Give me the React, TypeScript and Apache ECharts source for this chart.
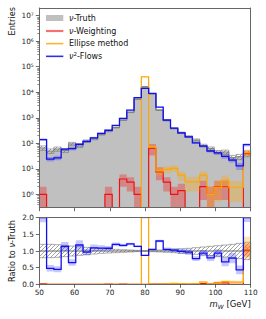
import React, { useEffect, useRef } from "react";
import * as echarts from "echarts";

// ---------- binning ----------
const X_MIN = 50;
const X_MAX = 110;
const N_BINS = 29;
const binEdges: number[] = Array.from({ length: N_BINS + 1 }, (_, i) => X_MIN + (i * (X_MAX - X_MIN)) / N_BINS);

// ---------- data ----------
const truthCounts = [66, 50, 60, 52, 95, 78, 122, 150, 225, 300, 417, 816, 1650, 5400, 16300, 8670, 2000, 780, 380, 258, 184, 135, 82, 63, 45, 46, 28, 30, 40];
const truthRelErr = [0.2, 0.2, 0.19, 0.17, 0.15, 0.13, 0.11, 0.09, 0.07, 0.06, 0.05, 0.04, 0.03, 0.02, 0.01, 0.02, 0.03, 0.04, 0.05, 0.07, 0.08, 0.1, 0.12, 0.14, 0.16, 0.18, 0.2, 0.23, 0.26];

const weightingCounts = [1, 0, 0, 0, 0, 0, 0, 0, 0, 1, 0, 4, 3, 1, 0, 63, 7.6, 3, 1, 1.4, 0, 0, 2, 1, 2, 2, 0, 0, 41];
const weightingErr = [1, 0, 0, 0, 0, 0, 0, 0, 0, 1, 0, 2, 1.7, 1, 0, 30, 4, 1.7, 1, 1.2, 0, 0, 1.4, 1, 1.4, 1.4, 0, 0, 8];

const ellipseCounts = [0, 0, 0, 0, 0, 0, 0, 0, 0, 0, 0, 0, 0, 0, 40000, 73, 8.5, 9.5, 10.5, 5.7, 3.1, 3.1, 5.7, 1, 1.9, 3.6, 1.9, 1.9, 44];
const ellipseErr = [0, 0, 0, 0, 0, 0, 0, 0, 0, 0, 0, 0, 0, 0, 300, 10, 3, 3, 3, 2.4, 1.8, 1.8, 2.4, 1, 1.4, 1.9, 1.4, 1.4, 13];

const flowsCounts = [140, 24, 27, 59, 62, 92, 118, 164, 245, 325, 500, 955, 2000, 6150, 14200, 9100, 2600, 820, 390, 255, 178, 104, 77, 50, 42, 31, 22, 13, 88];
const flowsRelErr = [0.12, 0.2, 0.2, 0.12, 0.15, 0.12, 0.1, 0.09, 0.08, 0.06, 0.05, 0.04, 0.03, 0.02, 0.02, 0.02, 0.03, 0.05, 0.06, 0.07, 0.08, 0.09, 0.1, 0.12, 0.13, 0.2, 0.2, 0.3, 0.15];

// ---------- ticks ----------
const xTicks = [50, 60, 70, 80, 90, 100, 110];
const logMajorTicks = [1, 10, 100, 1e3, 1e4, 1e5, 1e6, 1e7];
const logMajorLabels = ["10⁰", "10¹", "10²", "10³", "10⁴", "10⁵", "10⁶", "10⁷"];
const ratioTicks = [0, 0.5, 1, 1.5, 2];
const LOG_MIN = 0.3;
const LOG_MAX = 2e7;
const logMinorTicks: number[] = [];
for (let e = -1; e <= 7; e++) {
  for (let m = 2; m <= 9; m++) {
    const v = m * Math.pow(10, e);
    if (v > 0.31 && v < LOG_MAX) logMinorTicks.push(v);
  }
}

// ---------- styles ----------
const FONT = "DejaVu Sans";
const SPINE = "#666";
const C_TRUTH_FILL = "#c0c0c0";
const C_TRUTH_LINE = "#7a7a7a";
const C_RED = "#f01010";
const C_ORANGE = "#ffa500";
const C_BLUE = "#1010f0";
const A_RED = "rgba(255,0,0,0.3)";
const A_ORANGE = "rgba(255,165,0,0.3)";
const A_BLUE = "rgba(0,0,255,0.22)";

const HATCH_URL =
  "data:image/svg+xml;charset=utf-8," +
  encodeURIComponent(
    "<svg xmlns='http://www.w3.org/2000/svg' width='4' height='4'><path d='M-1,1 L1,-1 M0,4 L4,0 M3,5 L5,3' stroke='#666' stroke-width='0.6'/></svg>"
  );
const hatchFill: any = { image: HATCH_URL, repeat: "repeat", imageWidth: 4, imageHeight: 4 };

// ---------- helpers ----------
function yMapper(api: any, cs: any, log: boolean) {
  const top = cs.y;
  const bottom = cs.y + cs.height;
  return (v: number) => {
    if (log && !(v > 0)) return bottom;
    const p = api.coord([X_MIN, v])[1];
    if (!Number.isFinite(p)) return bottom;
    return Math.max(top, Math.min(bottom, p));
  };
}
const xAt = (api: any, x: number) => api.coord([x, 1])[0];

function custom(panel: number, z: number, draw: (cs: any, api: any, y: (v: number) => number) => any) {
  const log = panel === 0;
  return {
    type: "custom",
    xAxisIndex: panel === 0 ? 0 : 2,
    yAxisIndex: panel === 0 ? 0 : 3,
    z,
    silent: true,
    clip: true,
    data: [[X_MIN, 1]],
    renderItem: (params: any, api: any) => draw(params.coordSys, api, yMapper(api, params.coordSys, log)),
  };
}

function stepPoints(values: number[], api: any, y: (v: number) => number) {
  const pts: number[][] = [];
  values.forEach((v, i) => {
    const yy = y(v);
    pts.push([xAt(api, binEdges[i]), yy], [xAt(api, binEdges[i + 1]), yy]);
  });
  return pts;
}

function stepLine(values: number[], panel: number, z: number, stroke: string, lineWidth: number) {
  return custom(panel, z, (cs, api, y) => ({
    type: "polyline",
    shape: { points: stepPoints(values, api, y) },
    style: { fill: "none", stroke, lineWidth },
  }));
}

function filledHist(values: number[], panel: number, z: number, fill: string) {
  return custom(panel, z, (cs, api, y) => {
    const bottom = cs.y + cs.height;
    const pts = stepPoints(values, api, y);
    pts.unshift([xAt(api, binEdges[0]), bottom]);
    pts.push([xAt(api, binEdges[N_BINS]), bottom]);
    return { type: "polygon", shape: { points: pts }, style: { fill } };
  });
}

function bandRects(lo: number[], hi: number[], panel: number, z: number, fill: string) {
  return custom(panel, z, (cs, api, y) => {
    const children: any[] = [];
    for (let i = 0; i < N_BINS; i++) {
      if (!(hi[i] > lo[i])) continue;
      const y1 = y(hi[i]);
      const y0 = y(lo[i]);
      if (y0 - y1 < 0.05) continue;
      const x0 = xAt(api, binEdges[i]);
      const x1 = xAt(api, binEdges[i + 1]);
      children.push({ type: "rect", shape: { x: x0, y: y1, width: x1 - x0, height: y0 - y1 }, style: { fill } });
    }
    return { type: "group", children };
  });
}

function bandPolygon(lo: number[], hi: number[], panel: number, z: number, style: any) {
  return custom(panel, z, (cs, api, y) => {
    const pts: number[][] = [];
    for (let i = 0; i < N_BINS; i++) {
      const yy = y(hi[i]);
      pts.push([xAt(api, binEdges[i]), yy], [xAt(api, binEdges[i + 1]), yy]);
    }
    for (let i = N_BINS - 1; i >= 0; i--) {
      const yy = y(lo[i]);
      pts.push([xAt(api, binEdges[i + 1]), yy], [xAt(api, binEdges[i]), yy]);
    }
    return { type: "polygon", shape: { points: pts }, style };
  });
}

// ---------- derived arrays ----------
const truthLo = truthCounts.map((t, i) => t * (1 - truthRelErr[i]));
const truthHi = truthCounts.map((t, i) => t * (1 + truthRelErr[i]));
const weightLo = weightingCounts.map((w, i) => w - weightingErr[i]);
const weightHi = weightingCounts.map((w, i) => w + weightingErr[i]);
const ellipseLo = ellipseCounts.map((w, i) => w - ellipseErr[i]);
const ellipseHi = ellipseCounts.map((w, i) => w + ellipseErr[i]);
const flowsLo = flowsCounts.map((f, i) => f * (1 - flowsRelErr[i]));
const flowsHi = flowsCounts.map((f, i) => f * (1 + flowsRelErr[i]));

const truthRatio = truthCounts.map((t) => t / t);
const truthRatioLo = truthRelErr.map((e) => 1 - e);
const truthRatioHi = truthRelErr.map((e) => 1 + e);
const weightRatio = weightingCounts.map((w, i) => w / truthCounts[i]);
const weightRatioLo = weightLo.map((w, i) => w / truthCounts[i]);
const weightRatioHi = weightHi.map((w, i) => w / truthCounts[i]);
const ellipseRatio = ellipseCounts.map((w, i) => w / truthCounts[i]);
const ellipseRatioLo = ellipseLo.map((w, i) => w / truthCounts[i]);
const ellipseRatioHi = ellipseHi.map((w, i) => w / truthCounts[i]);
const flowsRatio = flowsCounts.map((f, i) => f / truthCounts[i]);
const flowsRatioLo = flowsLo.map((f, i) => f / truthCounts[i]);
const flowsRatioHi = flowsHi.map((f, i) => f / truthCounts[i]);

export default function App() {
  const ref = useRef<HTMLDivElement>(null);

  useEffect(() => {
    if (!ref.current) return;
    const chart = echarts.init(ref.current, undefined, { renderer: "svg" });

    const spineLine = { show: true, onZero: false, lineStyle: { color: SPINE, width: 1 } };
    const tickStyle = { color: "#444", width: 0.8 };
    const labelStyle = { fontSize: 7.3, color: "#222", fontFamily: FONT };

    const xBase = { type: "value", min: X_MIN, max: X_MAX, interval: 10, splitLine: { show: false }, z: 10 };

    const option: any = {
      animation: false,
      textStyle: { fontFamily: FONT },
      grid: [
        { left: 39.3, top: 8, width: 211.4, height: 199.7, outerBoundsMode: "none", containLabel: false },
        { left: 39.3, top: 217.7, width: 211.4, height: 66.6, outerBoundsMode: "none", containLabel: false },
      ],
      xAxis: [
        { ...xBase, gridIndex: 0, position: "bottom", axisLine: spineLine, axisTick: { show: true, length: 3.5, lineStyle: tickStyle, customValues: xTicks }, axisLabel: { show: false } },
        { ...xBase, gridIndex: 0, position: "top", axisLine: spineLine, axisTick: { show: false }, axisLabel: { show: false } },
        { ...xBase, gridIndex: 1, position: "bottom", axisLine: spineLine, axisTick: { show: true, length: 3.5, lineStyle: tickStyle, customValues: xTicks }, axisLabel: { ...labelStyle, show: true, margin: 4.5, customValues: xTicks } },
        { ...xBase, gridIndex: 1, position: "top", axisLine: spineLine, axisTick: { show: false }, axisLabel: { show: false } },
      ],
      yAxis: [
        {
          gridIndex: 0, type: "log", logBase: 10, min: LOG_MIN, max: LOG_MAX, position: "left", z: 10,
          splitLine: { show: false }, axisLine: spineLine,
          axisTick: { show: true, length: 3.5, lineStyle: tickStyle, customValues: logMajorTicks },
          axisLabel: {
            ...labelStyle, show: true, margin: 5.5, customValues: logMajorTicks,
            formatter: (v: number) => logMajorLabels[Math.round(Math.log10(v))] ?? "",
          },
        },
        { gridIndex: 0, type: "log", logBase: 10, min: LOG_MIN, max: LOG_MAX, position: "right", z: 10, splitLine: { show: false }, axisLine: spineLine, axisTick: { show: false }, axisLabel: { show: false } },
        {
          gridIndex: 0, type: "log", logBase: 10, min: LOG_MIN, max: LOG_MAX, position: "left", z: 10,
          splitLine: { show: false }, axisLine: { show: false },
          axisTick: { show: true, length: 2, lineStyle: { color: "#444", width: 0.6 }, customValues: logMinorTicks },
          axisLabel: { show: false },
        },
        {
          gridIndex: 1, type: "value", min: 0, max: 2, interval: 0.5, position: "left", z: 10,
          splitLine: { show: false }, axisLine: spineLine,
          axisTick: { show: true, length: 3.5, lineStyle: tickStyle },
          axisLabel: { ...labelStyle, show: true, margin: 5.5, formatter: (v: number) => v.toFixed(1), customValues: ratioTicks },
        },
        { gridIndex: 1, type: "value", min: 0, max: 2, interval: 0.5, position: "right", z: 10, splitLine: { show: false }, axisLine: spineLine, axisTick: { show: false }, axisLabel: { show: false } },
      ],
      series: [
        // top panel
        filledHist(truthCounts, 0, 1, C_TRUTH_FILL),
        bandPolygon(truthLo, truthHi, 0, 2, { fill: hatchFill, stroke: C_TRUTH_LINE, lineWidth: 0.6 }),
        stepLine(truthCounts, 0, 2.5, C_TRUTH_LINE, 0.9),
        bandRects(weightLo, weightHi, 0, 3, A_RED),
        stepLine(weightingCounts, 0, 3.5, C_RED, 1.2),
        bandRects(ellipseLo, ellipseHi, 0, 4, A_ORANGE),
        stepLine(ellipseCounts, 0, 4.5, C_ORANGE, 1.2),
        bandRects(flowsLo, flowsHi, 0, 5, A_BLUE),
        stepLine(flowsCounts, 0, 5.5, C_BLUE, 1.3),
        // ratio panel
        bandPolygon(truthRatioLo, truthRatioHi, 1, 2, { fill: hatchFill, stroke: C_TRUTH_LINE, lineWidth: 0.6 }),
        stepLine(truthRatio, 1, 2.5, "#6a6a6a", 1),
        bandRects(weightRatioLo, weightRatioHi, 1, 3, A_RED),
        stepLine(weightRatio, 1, 3.5, C_RED, 1.2),
        bandRects(ellipseRatioLo, ellipseRatioHi, 1, 4, A_ORANGE),
        stepLine(ellipseRatio, 1, 4.5, C_ORANGE, 1.2),
        bandRects(flowsRatioLo, flowsRatioHi, 1, 5, A_BLUE),
        stepLine(flowsRatio, 1, 5.5, C_BLUE, 1.3),
      ],
      graphic: {
        elements: [
          // legend
          { type: "rect", shape: { x: 46, y: 15, width: 17.3, height: 6 }, style: { fill: C_TRUTH_FILL } },
          { type: "line", shape: { x1: 46, y1: 31, x2: 63.3, y2: 31 }, style: { stroke: "rgba(255,0,0,0.18)", lineWidth: 2.6 } },
          { type: "line", shape: { x1: 46, y1: 31, x2: 63.3, y2: 31 }, style: { stroke: C_RED, lineWidth: 1 } },
          { type: "line", shape: { x1: 46, y1: 43.7, x2: 63.3, y2: 43.7 }, style: { stroke: "rgba(255,165,0,0.18)", lineWidth: 2.6 } },
          { type: "line", shape: { x1: 46, y1: 43.7, x2: 63.3, y2: 43.7 }, style: { stroke: C_ORANGE, lineWidth: 1 } },
          { type: "line", shape: { x1: 46, y1: 56.3, x2: 63.3, y2: 56.3 }, style: { stroke: "rgba(0,0,255,0.18)", lineWidth: 2.6 } },
          { type: "line", shape: { x1: 46, y1: 56.3, x2: 63.3, y2: 56.3 }, style: { stroke: C_BLUE, lineWidth: 1.1 } },
          ...[
            { y: 18, text: "{i|ν}-Truth" },
            { y: 31, text: "{i|ν}-Weighting" },
            { y: 43.7, text: "Ellipse method" },
            { y: 56.3, text: "{i|ν}{s|2}-Flows" },
          ].map((it) => ({
            type: "text",
            x: 69,
            y: it.y,
            style: {
              text: it.text,
              fill: "#111",
              fontSize: 8,
              fontFamily: FONT,
              lineHeight: 10,
              align: "left",
              verticalAlign: "middle",
              textAlign: "left",
              textVerticalAlign: "middle",
              rich: {
                i: { fontStyle: "italic", fontSize: 8, fontFamily: FONT, lineHeight: 10 },
                s: { fontSize: 5.5, fontFamily: FONT, verticalAlign: "top", lineHeight: 6 },
              },
            },
          })),
          // axis titles
          {
            type: "text", x: 12, y: 7, rotation: Math.PI / 2,
            style: { text: "Entries", fill: "#111", fontSize: 8.2, fontFamily: FONT, align: "right", verticalAlign: "middle", textAlign: "right", textVerticalAlign: "middle" },
          },
          {
            type: "text", x: 12, y: 251, rotation: Math.PI / 2,
            style: {
              text: "Ratio to {i|ν}-Truth", fill: "#111", fontSize: 8.2, fontFamily: FONT, lineHeight: 10,
              align: "center", verticalAlign: "middle", textAlign: "center", textVerticalAlign: "middle",
              rich: { i: { fontStyle: "italic", fontSize: 8.2, fontFamily: FONT, lineHeight: 10 } },
            },
          },
          {
            type: "text", x: 250.7, y: 304,
            style: {
              text: "{i|m}{w|W} [GeV]", fill: "#111", fontSize: 8.5, fontFamily: FONT, lineHeight: 10,
              align: "right", verticalAlign: "middle", textAlign: "right", textVerticalAlign: "middle",
              rich: {
                i: { fontStyle: "italic", fontSize: 8.5, fontFamily: FONT, lineHeight: 10 },
                w: { fontStyle: "italic", fontSize: 6, fontFamily: FONT, verticalAlign: "bottom", lineHeight: 5 },
              },
            },
          },
        ],
      },
    };

    chart.setOption(option);
    return () => chart.dispose();
  }, []);

  return <div ref={ref} style={{ position: "absolute", left: 0, top: 0, width: 266, height: 319 }} />;
}
